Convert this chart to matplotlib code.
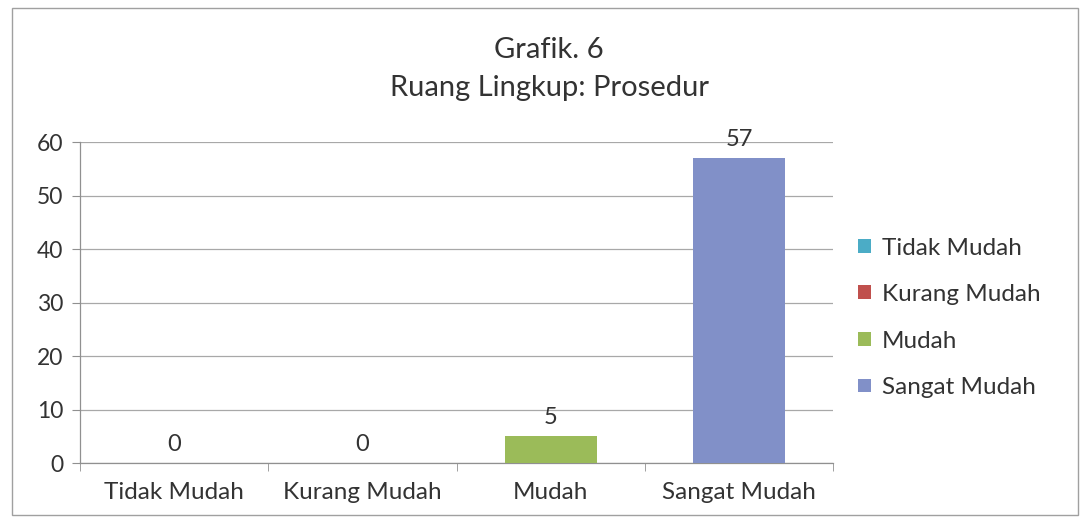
import matplotlib.pyplot as plt
from matplotlib.patches import Patch, Rectangle

categories = ["Tidak Mudah", "Kurang Mudah", "Mudah", "Sangat Mudah"]
values = [0, 0, 5, 57]
colors = ["#4BACC6", "#C0504D", "#9BBB59", "#8190C8"]
y_ticks = [0, 10, 20, 30, 40, 50, 60]

plt.rcParams['font.family'] = ['Lato', 'DejaVu Sans']

fig = plt.figure(figsize=(10.85, 5.21), dpi=100)
ax = fig.add_axes([0.0737, 0.1113, 0.6943, 0.6161])

x = list(range(len(categories)))
bars = ax.bar(x, values, width=0.49, color=colors, zorder=3)

for xi, v in zip(x, values):
    ax.annotate(str(v), (xi, v), xytext=(0, 6), textcoords="offset points",
                ha="center", va="bottom", fontsize=17, color="#333333")

ax.set_xlim(-0.5, len(categories) - 0.5)
ax.set_ylim(0, 60)
ax.set_yticks(y_ticks)
ax.set_yticklabels([str(t) for t in y_ticks], fontsize=16.5, color="#333333")

# category labels centered, tick marks at category boundaries
ax.set_xticks(x)
ax.set_xticklabels(categories, fontsize=17.5, color="#333333")
ax.tick_params(axis="x", which="major", length=0, pad=14)
ax.set_xticks([i - 0.5 for i in range(len(categories) + 1)], minor=True)
ax.tick_params(axis="x", which="minor", length=6, color="#909090", direction="out")
ax.tick_params(axis="y", length=6, color="#909090", direction="out", pad=6)

ax.grid(axis="y", color="#A8A8A8", linewidth=0.9, zorder=0)
for side in ["top", "right"]:
    ax.spines[side].set_visible(False)
for side in ["left", "bottom"]:
    ax.spines[side].set_color("#909090")
    ax.spines[side].set_linewidth(0.9)

fig.text(0.506, 0.904, "Grafik. 6", ha="center", va="center", fontsize=21, color="#333333")
fig.text(0.506, 0.831, "Ruang Lingkup: Prosedur", ha="center", va="center",
         fontsize=21, color="#333333")

handles = [Patch(facecolor=c, edgecolor="none", label=l) for c, l in zip(colors, categories)]
fig.legend(handles=handles, loc="center left", bbox_to_anchor=(0.771, 0.390),
           frameon=False, fontsize=17.5, handlelength=0.5, handleheight=0.5,
           handletextpad=0.45, labelspacing=1.05, labelcolor="#333333")

# outer chart border
fig.patches.append(Rectangle((0.011, 0.012), 0.983, 0.972, transform=fig.transFigure,
                             fill=False, edgecolor="#A0A0A0", linewidth=1))

fig.savefig("out.png", dpi=100)
